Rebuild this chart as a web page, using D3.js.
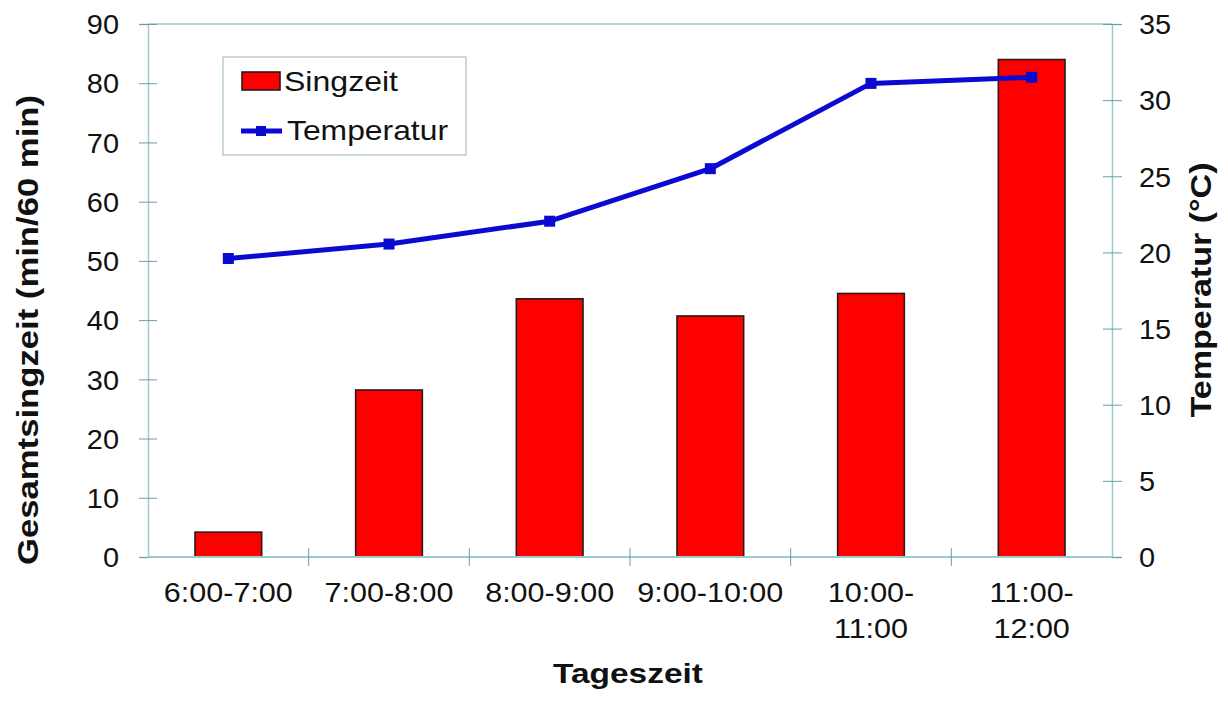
<!DOCTYPE html>
<html>
<head>
<meta charset="utf-8">
<script src="https://cdn.jsdelivr.net/npm/d3@7/dist/d3.min.js"></script>
<style>
  html, body { margin: 0; padding: 0; background: #fff; }
  svg text { font-family: "Liberation Sans", Arial, sans-serif; fill: #111; }
</style>
</head>
<body>
<svg id="chart" width="1228" height="704"></svg>
<script>
// Time slots of the day (two-line labels where the original wraps)
const categories = ["6:00-7:00", "7:00-8:00", "8:00-9:00", "9:00-10:00", "10:00-11:00", "11:00-12:00"];
const categoryLines = [["6:00-7:00"], ["7:00-8:00"], ["8:00-9:00"], ["9:00-10:00"], ["10:00-", "11:00"], ["11:00-", "12:00"]];
// Total singing time per hour (min/60 min)
const singzeit = [4.2, 28.2, 43.6, 40.7, 44.5, 84.0];
// Air temperature (°C)
const temperatur = [19.6, 20.55, 22.05, 25.5, 31.1, 31.5];
const leftTicks = [0, 10, 20, 30, 40, 50, 60, 70, 80, 90];
const rightTicks = [0, 5, 10, 15, 20, 25, 30, 35];

const svg = d3.select("#chart");
const L = 148, R = 1112, T = 24, B = 557;
const axisColor = "#9ccacd";
const tickColor = "#6f9ea2";

// Widen glyphs slightly (the typeface used is a bit broader than Liberation Sans)
function widen(sel, k) {
  sel.each(function () {
    const w = this.getComputedTextLength();
    d3.select(this).attr("textLength", w * k).attr("lengthAdjust", "spacingAndGlyphs");
  });
}

const x = d3.scaleBand().domain(categories).range([L, R]).padding(0);
const yL = d3.scaleLinear().domain([0, 90]).range([B, T]);
const yR = d3.scaleLinear().domain([0, 35]).range([B, T]);

// Top edge of the plot frame
svg.append("line").attr("x1", L).attr("x2", R).attr("y1", T).attr("y2", T)
  .attr("stroke", axisColor).attr("stroke-width", 1.5);

// Left axis
const gL = svg.append("g").attr("transform", `translate(${L},0)`)
  .call(d3.axisLeft(yL).tickValues(leftTicks).tickSize(9).tickPadding(20));
gL.select(".domain").attr("stroke", axisColor).attr("stroke-width", 1.5);
gL.selectAll(".tick line").attr("stroke", tickColor).attr("x2", -9).attr("x1", 9);
gL.selectAll(".tick text").style("font-size", "27px").attr("dy", "0.36em");
widen(gL.selectAll(".tick text"), 1.07);

// Right axis
const gR = svg.append("g").attr("transform", `translate(${R},0)`)
  .call(d3.axisRight(yR).tickValues(rightTicks).tickSize(10).tickPadding(17));
gR.select(".domain").attr("stroke", axisColor).attr("stroke-width", 1.5);
gR.selectAll(".tick line").attr("stroke", tickColor).attr("x1", -9).attr("x2", 10);
gR.selectAll(".tick text").style("font-size", "27px").attr("dy", "0.36em");
widen(gR.selectAll(".tick text"), 1.07);

// Bars
const barW = x.bandwidth() * 0.415;
svg.append("g").selectAll("rect").data(categories).join("rect")
  .attr("x", (d) => x(d) + x.bandwidth() / 2 - barW / 2)
  .attr("y", (d, i) => yL(singzeit[i]))
  .attr("width", barW)
  .attr("height", (d, i) => yL(0) - yL(singzeit[i]))
  .attr("fill", "#ff0000")
  .attr("stroke", "#2a1a1a")
  .attr("stroke-width", 1.6);

// Bottom axis with ticks at band boundaries
svg.append("line").attr("x1", L).attr("x2", R).attr("y1", B).attr("y2", B)
  .attr("stroke", axisColor).attr("stroke-width", 2);
const boundaries = categories.slice(1).map((c) => x(c));
svg.append("g").selectAll("line").data(boundaries).join("line")
  .attr("x1", (d) => d).attr("x2", (d) => d)
  .attr("y1", B - 9).attr("y2", B + 9)
  .attr("stroke", tickColor).attr("stroke-width", 1);

// Category labels
const xl = svg.append("g");
categories.forEach((c, i) => {
  const cx = x(c) + x.bandwidth() / 2;
  categoryLines[i].forEach((line, j) => {
    xl.append("text").attr("x", cx).attr("y", 602 + j * 36)
      .attr("text-anchor", "middle").style("font-size", "28px").text(line);
  });
});
widen(xl.selectAll("text"), 1.09);

// Temperature line with square markers
const cxOf = (i) => x(categories[i]) + x.bandwidth() / 2;
const lineGen = d3.line().x((d, i) => cxOf(i)).y((d) => yR(d));
svg.append("path").datum(temperatur)
  .attr("d", lineGen).attr("fill", "none")
  .attr("stroke", "#0a0ad0").attr("stroke-width", 5).attr("stroke-linejoin", "round");
svg.append("g").selectAll("rect").data(temperatur).join("rect")
  .attr("x", (d, i) => cxOf(i) - 5.5).attr("y", (d) => yR(d) - 5.5)
  .attr("width", 11).attr("height", 11).attr("fill", "#0a0ad0");

// Axis titles
svg.append("text").attr("transform", "translate(38,330) rotate(-90)")
  .attr("text-anchor", "middle").style("font-size", "30px").style("font-weight", "bold")
  .attr("textLength", 470).attr("lengthAdjust", "spacingAndGlyphs")
  .text("Gesamtsingzeit (min/60 min)");
svg.append("text").attr("transform", "translate(1211,290) rotate(-90)")
  .attr("text-anchor", "middle").style("font-size", "30px").style("font-weight", "bold")
  .attr("textLength", 255).attr("lengthAdjust", "spacingAndGlyphs")
  .text("Temperatur (°C)");
svg.append("text").attr("x", 628).attr("y", 683)
  .attr("text-anchor", "middle").style("font-size", "28px").style("font-weight", "bold")
  .attr("textLength", 150).attr("lengthAdjust", "spacingAndGlyphs")
  .text("Tageszeit");

// Legend
const lg = svg.append("g");
lg.append("rect").attr("x", 223).attr("y", 57).attr("width", 243).attr("height", 98)
  .attr("fill", "#fff").attr("stroke", "#a9bfcc").attr("stroke-width", 1.2);
lg.append("rect").attr("x", 242).attr("y", 72).attr("width", 38).attr("height", 18)
  .attr("fill", "#ff0000").attr("stroke", "#2a1a1a").attr("stroke-width", 1.6);
lg.append("text").attr("x", 284).attr("y", 91).style("font-size", "28px")
  .attr("textLength", 114).attr("lengthAdjust", "spacingAndGlyphs").text("Singzeit");
lg.append("line").attr("x1", 241).attr("x2", 282).attr("y1", 131).attr("y2", 131)
  .attr("stroke", "#0a0ad0").attr("stroke-width", 5);
lg.append("rect").attr("x", 256).attr("y", 126).attr("width", 10).attr("height", 10).attr("fill", "#0a0ad0");
lg.append("text").attr("x", 287).attr("y", 140).style("font-size", "28px")
  .attr("textLength", 161).attr("lengthAdjust", "spacingAndGlyphs").text("Temperatur");
</script>
</body>
</html>
